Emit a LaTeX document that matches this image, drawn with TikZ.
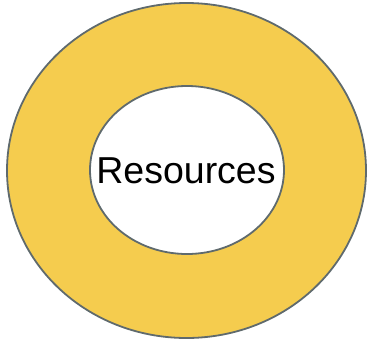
\documentclass[tikz,border=0pt]{standalone}
\usepackage{fontspec}
\setmainfont{Liberation Sans}
\usetikzlibrary{shapes.geometric}
\definecolor{ringfill}{HTML}{F5CC4E}
\definecolor{ringline}{HTML}{5F6A6D}
\begin{document}
\begin{tikzpicture}[x=1pt,y=-1pt,
  ring/.style={draw=ringline,line width=1.8pt}]
\useasboundingbox (0,0) rectangle (370,341);
\node[ring,ellipse,fill=ringfill,minimum width=359pt,minimum height=335pt,inner sep=0pt] (outer) at (186.5,170.5) {};
\node[ring,ellipse,fill=white,minimum width=194pt,minimum height=168pt,inner sep=0pt] (inner) at (187,170) {};
\node[font=\fontsize{37.5}{42}\selectfont,inner sep=0pt] (label) at (186,170.5) {Resources};
\end{tikzpicture}
\end{document}
